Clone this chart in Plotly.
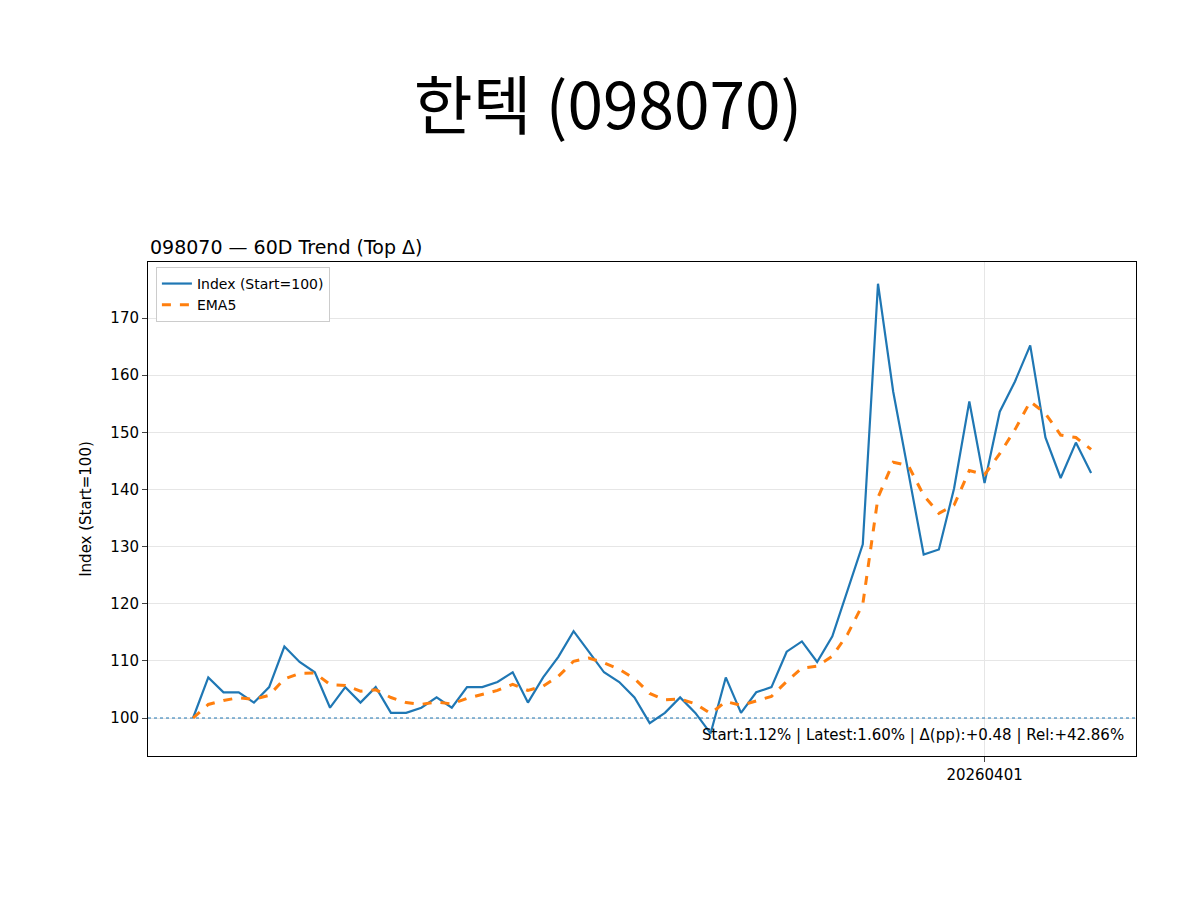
import pandas as pd
import plotly.graph_objects as go

dates = pd.bdate_range(start="2026-01-19", periods=60).strftime("%Y%m%d").tolist()
index_vals = [100.0, 107.1, 104.5, 104.5, 102.7, 105.4, 112.5, 109.8, 108.0, 101.8,
              105.4, 102.7, 105.4, 100.9, 100.9, 101.8, 103.6, 101.8, 105.4, 105.4,
              106.3, 108.0, 102.7, 107.1, 110.7, 115.2, 111.6, 108.0, 106.3, 103.6,
              99.1, 100.9, 103.6, 100.9, 97.3, 107.1, 100.9, 104.5, 105.4, 111.6,
              113.4, 109.8, 114.3, 122.3, 130.4, 176.0, 157.1, 142.9, 128.6, 129.5,
              140.2, 155.4, 141.1, 153.6, 158.9, 165.2, 149.1, 142.0, 148.2, 142.86]
ema5 = pd.Series(index_vals).ewm(span=5, adjust=False).mean().tolist()
tick_dates = ["20260401"]
font = "DejaVu Sans"

fig = go.Figure()
fig.add_trace(go.Scatter(x=dates, y=index_vals, mode="lines", name="Index (Start=100)",
                         line=dict(color="#1f77b4", width=2.2)))
fig.add_trace(go.Scatter(x=dates, y=ema5, mode="lines", name="EMA5",
                         line=dict(color="#ff7f0e", width=3, dash="dash")))
fig.add_hline(y=100, line=dict(color="#1f77b4", width=1.2, dash="dot"))

fig.update_layout(
    width=1200, height=900,
    paper_bgcolor="white", plot_bgcolor="white",
    margin=dict(l=140, r=72, t=254, b=152, autoexpand=False),
    font=dict(family=font, size=15, color="black"),
    title=dict(text="한텍 (098070)", x=0.5, xanchor="center", y=0.89, yanchor="middle",
               font=dict(family="Noto Sans CJK KR", size=64)),
    legend=dict(x=0.008, y=0.99, xanchor="left", yanchor="top", bgcolor="white",
                bordercolor="#cccccc", borderwidth=1, font=dict(size=14)),
    annotations=[
        dict(text="098070 — 60D Trend (Top Δ)", xref="paper", yref="paper", x=0, y=1.005,
             xanchor="left", yanchor="bottom", showarrow=False, font=dict(size=19)),
        dict(text="Start:1.12% | Latest:1.60% | Δ(pp):+0.48 | Rel:+42.86%", xref="paper",
             yref="paper", x=0.99, y=0.02, xanchor="right", yanchor="bottom",
             showarrow=False, font=dict(size=15)),
    ],
)
fig.update_xaxes(type="category", range=[-2.96, 61.95], tickvals=tick_dates, ticktext=tick_dates,
                 showgrid=True, gridcolor="#e6e6e6", showline=True, linecolor="black",
                 mirror=True, ticks="outside", ticklen=5, zeroline=False, automargin=False)
fig.update_yaxes(range=[93.35, 179.8], dtick=10, title=dict(text="Index (Start=100)", font=dict(size=15)),
                 showgrid=True, gridcolor="#e6e6e6", showline=True, linecolor="black",
                 mirror=True, ticks="outside", ticklen=5, zeroline=False, automargin=False)

fig.write_html("out.html")
